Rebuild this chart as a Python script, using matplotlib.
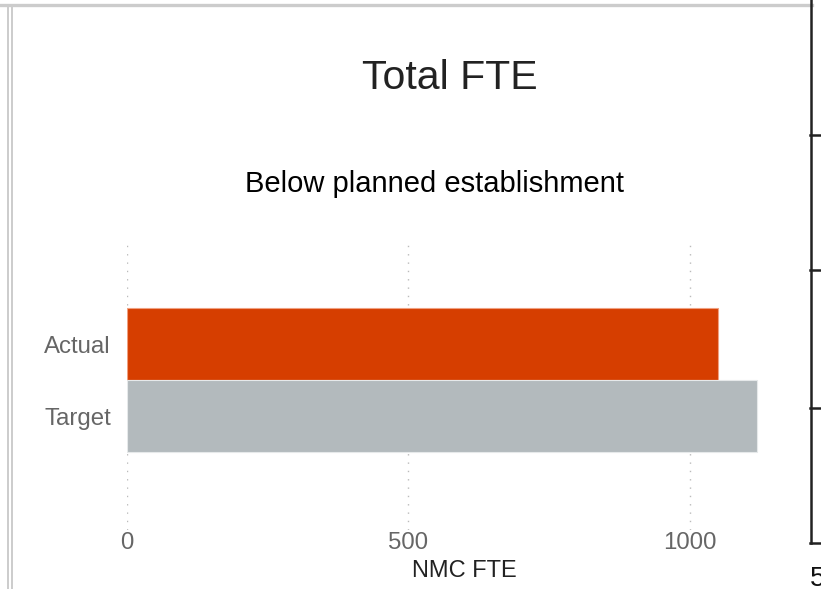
import matplotlib.pyplot as plt
from matplotlib.lines import Line2D

plt.rcParams['font.family'] = ['Liberation Sans', 'DejaVu Sans']

# --- data ---
categories = ["Actual", "Target"]
fte_values = [1050, 1120]
bar_colors = ["#d63e00", "#b3babd"]
x_ticks = [0, 500, 1000]

W, H = 821, 589
fig = plt.figure(figsize=(W / 100, H / 100), dpi=100)


def px_rect(x0, y0, x1, y1):
    # pixel box (top-left origin) -> figure fraction rect
    return [x0 / W, 1 - y1 / H, (x1 - x0) / W, (y1 - y0) / H]


ax = fig.add_axes(px_rect(127, 243, 801, 530))
ax.barh(categories, fte_values, height=1.0, color=bar_colors,
        edgecolor=["#f0a080", "#e6e9ea"], linewidth=0.8, zorder=3)
ax.set_xlim(0, 1198)
ax.set_ylim(2.583, -1.403)

ax.set_xticks(x_ticks)
ax.xaxis.grid(True, linestyle=(0, (1, 5)), color="#bbbbbb", linewidth=1.0)
for s in ax.spines.values():
    s.set_visible(False)
ax.tick_params(axis="both", length=0, labelsize=17.3, labelcolor="#666666")
ax.tick_params(axis="x", pad=1.5)
ax.tick_params(axis="y", pad=11.5)
ax.set_xlabel("NMC FTE", fontsize=17, color="#222222", labelpad=4.5)

fig.text(450 / W, 1 - 78 / H, "Total FTE", fontsize=29.5, color="#222222",
         ha="center", va="center")
fig.text(434 / W, 1 - 184 / H, "Below planned establishment", fontsize=21,
         color="#000000", ha="center", va="center")

# --- page frame around the chart ---
def fig_line(xs, ys, color, lw):
    fig.add_artist(Line2D([x / W for x in xs], [1 - y / H for y in ys],
                          color=color, linewidth=lw, transform=fig.transFigure))


fig_line([0, 812], [4.5, 4.5], "#cccccc", 2.4)
fig_line([8, 8], [6, H], "#cccccc", 1.4)
fig_line([11.5, 11.5], [6, H], "#cccccc", 1.4)

# side panel boxes
fig_line([810.5, 810.5], [0, 543], "#222222", 1.8)
for y in [135, 270, 408, 543]:
    fig_line([810, W], [y, y], "#222222", 1.8)
fig.text(810 / W, 1 - 579 / H, "5", fontsize=20, color="#111111",
         ha="left", va="center")

fig.savefig("out.png", dpi=100)
